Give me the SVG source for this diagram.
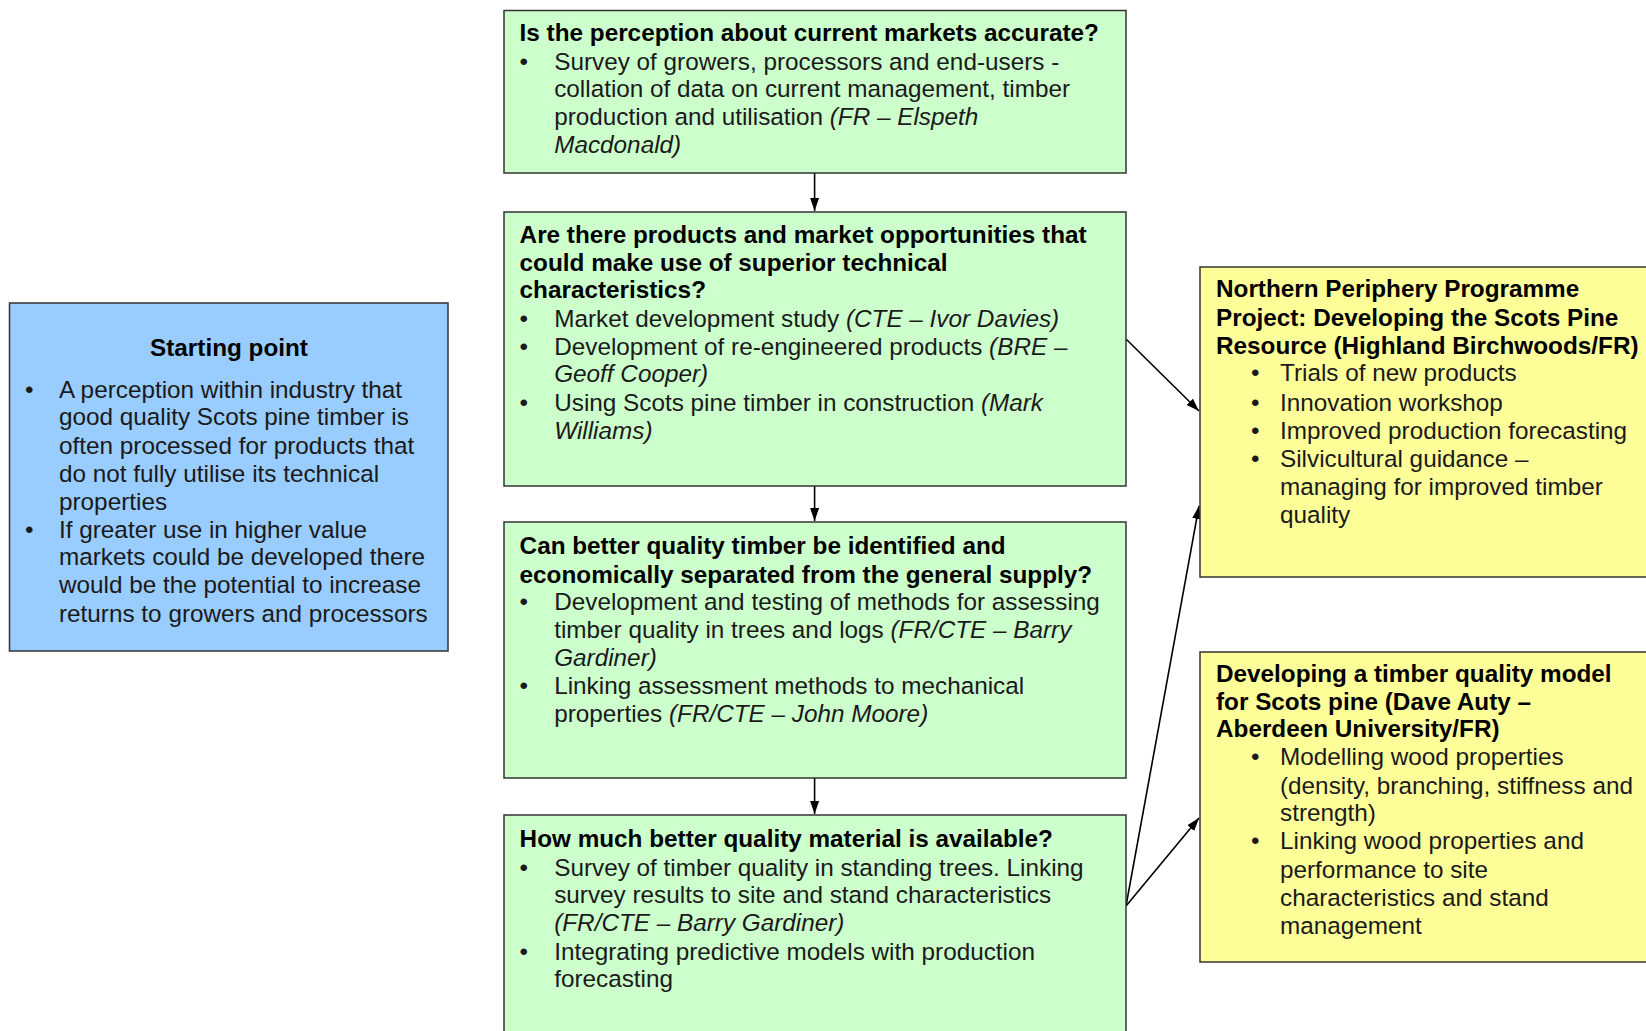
<svg xmlns="http://www.w3.org/2000/svg" width="1646" height="1031" viewBox="0 0 1646 1031">
<style>
text{font-family:"Liberation Sans",Arial,sans-serif;font-size:24.3px;fill:#1a1a1a}
.b{font-weight:bold;fill:#000}
.i{font-style:italic}
.box{stroke:#333;stroke-width:1.5}
.g{fill:#ccffcc}
.bl{fill:#99ccff}
.y{fill:#ffff99}
.c{stroke:#000;stroke-width:1.6;fill:none;marker-end:url(#ah)}
</style>
<defs>
<marker id="ah" markerUnits="userSpaceOnUse" markerWidth="14" markerHeight="10" refX="13" refY="4.5" orient="auto">
<path d="M0,0 L13,4.5 L0,9 z" fill="#000"/>
</marker>
</defs>
<rect width="1646" height="1031" fill="#fff"/>
<g id="connectors">
<line class="c" x1="814.6" y1="173" x2="814.6" y2="211"/>
<line class="c" x1="814.6" y1="486" x2="814.6" y2="521"/>
<line class="c" x1="814.6" y1="778" x2="814.6" y2="814"/>
<line class="c" x1="1126" y1="339" x2="1199" y2="411"/>
<line class="c" x1="1126" y1="906" x2="1199" y2="506"/>
<line class="c" x1="1126" y1="906" x2="1199" y2="818"/>
</g>
<g id="start">
<rect class="box bl" x="9.5" y="303" width="438.5" height="348"/>
<text class="b" x="229" y="356" text-anchor="middle">Starting point</text>
<text x="25" y="398">•</text>
<text x="59" y="398">A perception within industry that</text>
<text x="59" y="425.3">good quality Scots pine timber is</text>
<text x="59" y="453.6">often processed for products that</text>
<text x="59" y="482">do not fully utilise its technical</text>
<text x="59" y="510.4">properties</text>
<text x="25" y="537.6">•</text>
<text x="59" y="537.6">If greater use in higher value</text>
<text x="59" y="565">markets could be developed there</text>
<text x="59" y="593.3">would be the potential to increase</text>
<text x="59" y="621.6">returns to growers and processors</text>
</g>
<g id="q1">
<rect class="box g" x="504" y="10.5" width="622" height="162.5"/>
<text class="b" x="519.6" y="41">Is the perception about current markets accurate?</text>
<text x="519.5" y="69.5">•</text>
<text x="554.2" y="69.5">Survey of growers, processors and end-users -</text>
<text x="554.2" y="97">collation of data on current management, timber</text>
<text x="554.2" y="125">production and utilisation <tspan class="i">(FR – Elspeth</tspan></text>
<text class="i" x="554.2" y="152.5">Macdonald)</text>
</g>
<g id="q2">
<rect class="box g" x="504" y="212" width="622" height="274"/>
<text class="b" x="519.6" y="242.7">Are there products and market opportunities that</text>
<text class="b" x="519.6" y="271">could make use of superior technical</text>
<text class="b" x="519.6" y="298.3">characteristics?</text>
<text x="519.5" y="326.7">•</text>
<text x="554.2" y="326.7">Market development study <tspan class="i">(CTE – Ivor Davies)</tspan></text>
<text x="519.5" y="355">•</text>
<text x="554.2" y="355">Development of re-engineered products <tspan class="i">(BRE –</tspan></text>
<text class="i" x="554.2" y="382.3">Geoff Cooper)</text>
<text x="519.5" y="410.7">•</text>
<text x="554.2" y="410.7">Using Scots pine timber in construction <tspan class="i">(Mark</tspan></text>
<text class="i" x="554.2" y="439">Williams)</text>
</g>
<g id="q3">
<rect class="box g" x="504" y="522" width="622" height="256"/>
<text class="b" x="519.6" y="554.4">Can better quality timber be identified and</text>
<text class="b" x="519.6" y="582.8">economically separated from the general supply?</text>
<text x="519.5" y="610">•</text>
<text x="554.2" y="610">Development and testing of methods for assessing</text>
<text x="554.2" y="638.4">timber quality in trees and logs <tspan class="i">(FR/CTE – Barry</tspan></text>
<text class="i" x="554.2" y="665.7">Gardiner)</text>
<text x="519.5" y="694">•</text>
<text x="554.2" y="694">Linking assessment methods to mechanical</text>
<text x="554.2" y="722.4">properties <tspan class="i">(FR/CTE – John Moore)</tspan></text>
</g>
<g id="q4">
<rect class="box g" x="504" y="815" width="622" height="230"/>
<text class="b" x="519.6" y="847.3">How much better quality material is available?</text>
<text x="519.5" y="875.6">•</text>
<text x="554.2" y="875.6">Survey of timber quality in standing trees. Linking</text>
<text x="554.2" y="903">survey results to site and stand characteristics</text>
<text class="i" x="554.2" y="931.3">(FR/CTE – Barry Gardiner)</text>
<text x="519.5" y="959.6">•</text>
<text x="554.2" y="959.6">Integrating predictive models with production</text>
<text x="554.2" y="987">forecasting</text>
</g>
<g id="npp">
<rect class="box y" x="1200" y="267" width="460" height="310"/>
<text class="b" x="1216" y="297.3">Northern Periphery Programme</text>
<text class="b" x="1216" y="325.6">Project: Developing the Scots Pine</text>
<text class="b" x="1216" y="354">Resource (Highland Birchwoods/FR)</text>
<text x="1251" y="381.2">•</text>
<text x="1280" y="381.2">Trials of new products</text>
<text x="1251" y="410.6">•</text>
<text x="1280" y="410.6">Innovation workshop</text>
<text x="1251" y="439">•</text>
<text x="1280" y="439">Improved production forecasting</text>
<text x="1251" y="467.3">•</text>
<text x="1280" y="467.3">Silvicultural guidance –</text>
<text x="1280" y="494.6">managing for improved timber</text>
<text x="1280" y="523">quality</text>
</g>
<g id="model">
<rect class="box y" x="1200" y="652" width="460" height="310"/>
<text class="b" x="1216" y="681.5">Developing a timber quality model</text>
<text class="b" x="1216" y="709.8">for Scots pine (Dave Auty –</text>
<text class="b" x="1216" y="737">Aberdeen University/FR)</text>
<text x="1251" y="765.4">•</text>
<text x="1280" y="765.4">Modelling wood properties</text>
<text x="1280" y="793.8">(density, branching, stiffness and</text>
<text x="1280" y="821">strength)</text>
<text x="1251" y="849.4">•</text>
<text x="1280" y="849.4">Linking wood properties and</text>
<text x="1280" y="877.8">performance to site</text>
<text x="1280" y="906">characteristics and stand</text>
<text x="1280" y="934.4">management</text>
</g>
</svg>
